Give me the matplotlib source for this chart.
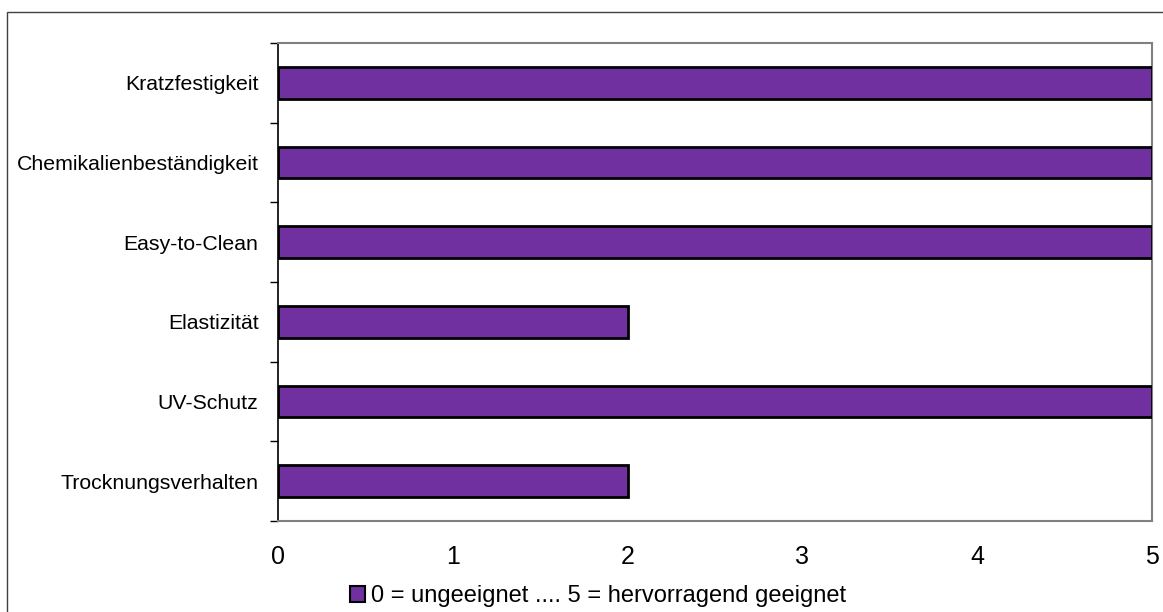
import matplotlib.pyplot as plt
from matplotlib.patches import Rectangle

plt.rcParams['font.family'] = ['Liberation Sans', 'DejaVu Sans']

categories = ['Trocknungsverhalten', 'UV-Schutz', 'Elastizität',
              'Easy-to-Clean', 'Chemikalienbeständigkeit', 'Kratzfestigkeit']
values = [2, 5, 2, 5, 5, 5]
x_ticks = [0, 1, 2, 3, 4, 5]
legend_label = '0 = ungeeignet .... 5 = hervorragend geeignet'
bar_color = '#7030A0'

fig = plt.figure(figsize=(11.63, 6.12), dpi=100)
# outer chart frame (runs off the right and bottom edges)
fig.patches.append(Rectangle((7 / 1163, -0.01), 1.2, 1 - 12 / 612 + 0.01,
                             transform=fig.transFigure, fill=False,
                             edgecolor='#404040', linewidth=1.0))
ax = fig.add_axes([278 / 1163, 1 - 521 / 612, (1152 - 278) / 1163, (521 - 43) / 612])

pos = list(range(len(categories)))
ax.barh(pos, values, height=0.4, color=bar_color, edgecolor='black',
        linewidth=2, label=legend_label, zorder=3)

ax.set_xlim(0, 5)
ax.set_ylim(-0.5, len(categories) - 0.5)
ax.set_xticks(x_ticks)
ax.set_xticklabels([str(t) for t in x_ticks], fontsize=18)
ax.tick_params(axis='x', length=0, pad=17)

ax.set_yticks(pos)
ax.set_yticklabels(categories, fontsize=15.3)
ax.tick_params(axis='y', length=0, pad=14)
ax.set_yticks([p - 0.5 for p in range(len(categories) + 1)], minor=True)
ax.tick_params(axis='y', which='minor', length=6, width=1, color='black', direction='out')

for side in ['top', 'right', 'bottom']:
    ax.spines[side].set_color('#808080')
    ax.spines[side].set_linewidth(1.5)
ax.spines['left'].set_color('black')
ax.spines['left'].set_linewidth(1.2)

leg = fig.legend(loc='center', bbox_to_anchor=(598 / 1163, 1 - 596 / 612),
                 frameon=False, fontsize=17, handlelength=0.65, handleheight=0.65,
                 handletextpad=0.25)
for h in leg.legend_handles:
    h.set_linewidth(1.5)

fig.savefig('out.png', dpi=100)
